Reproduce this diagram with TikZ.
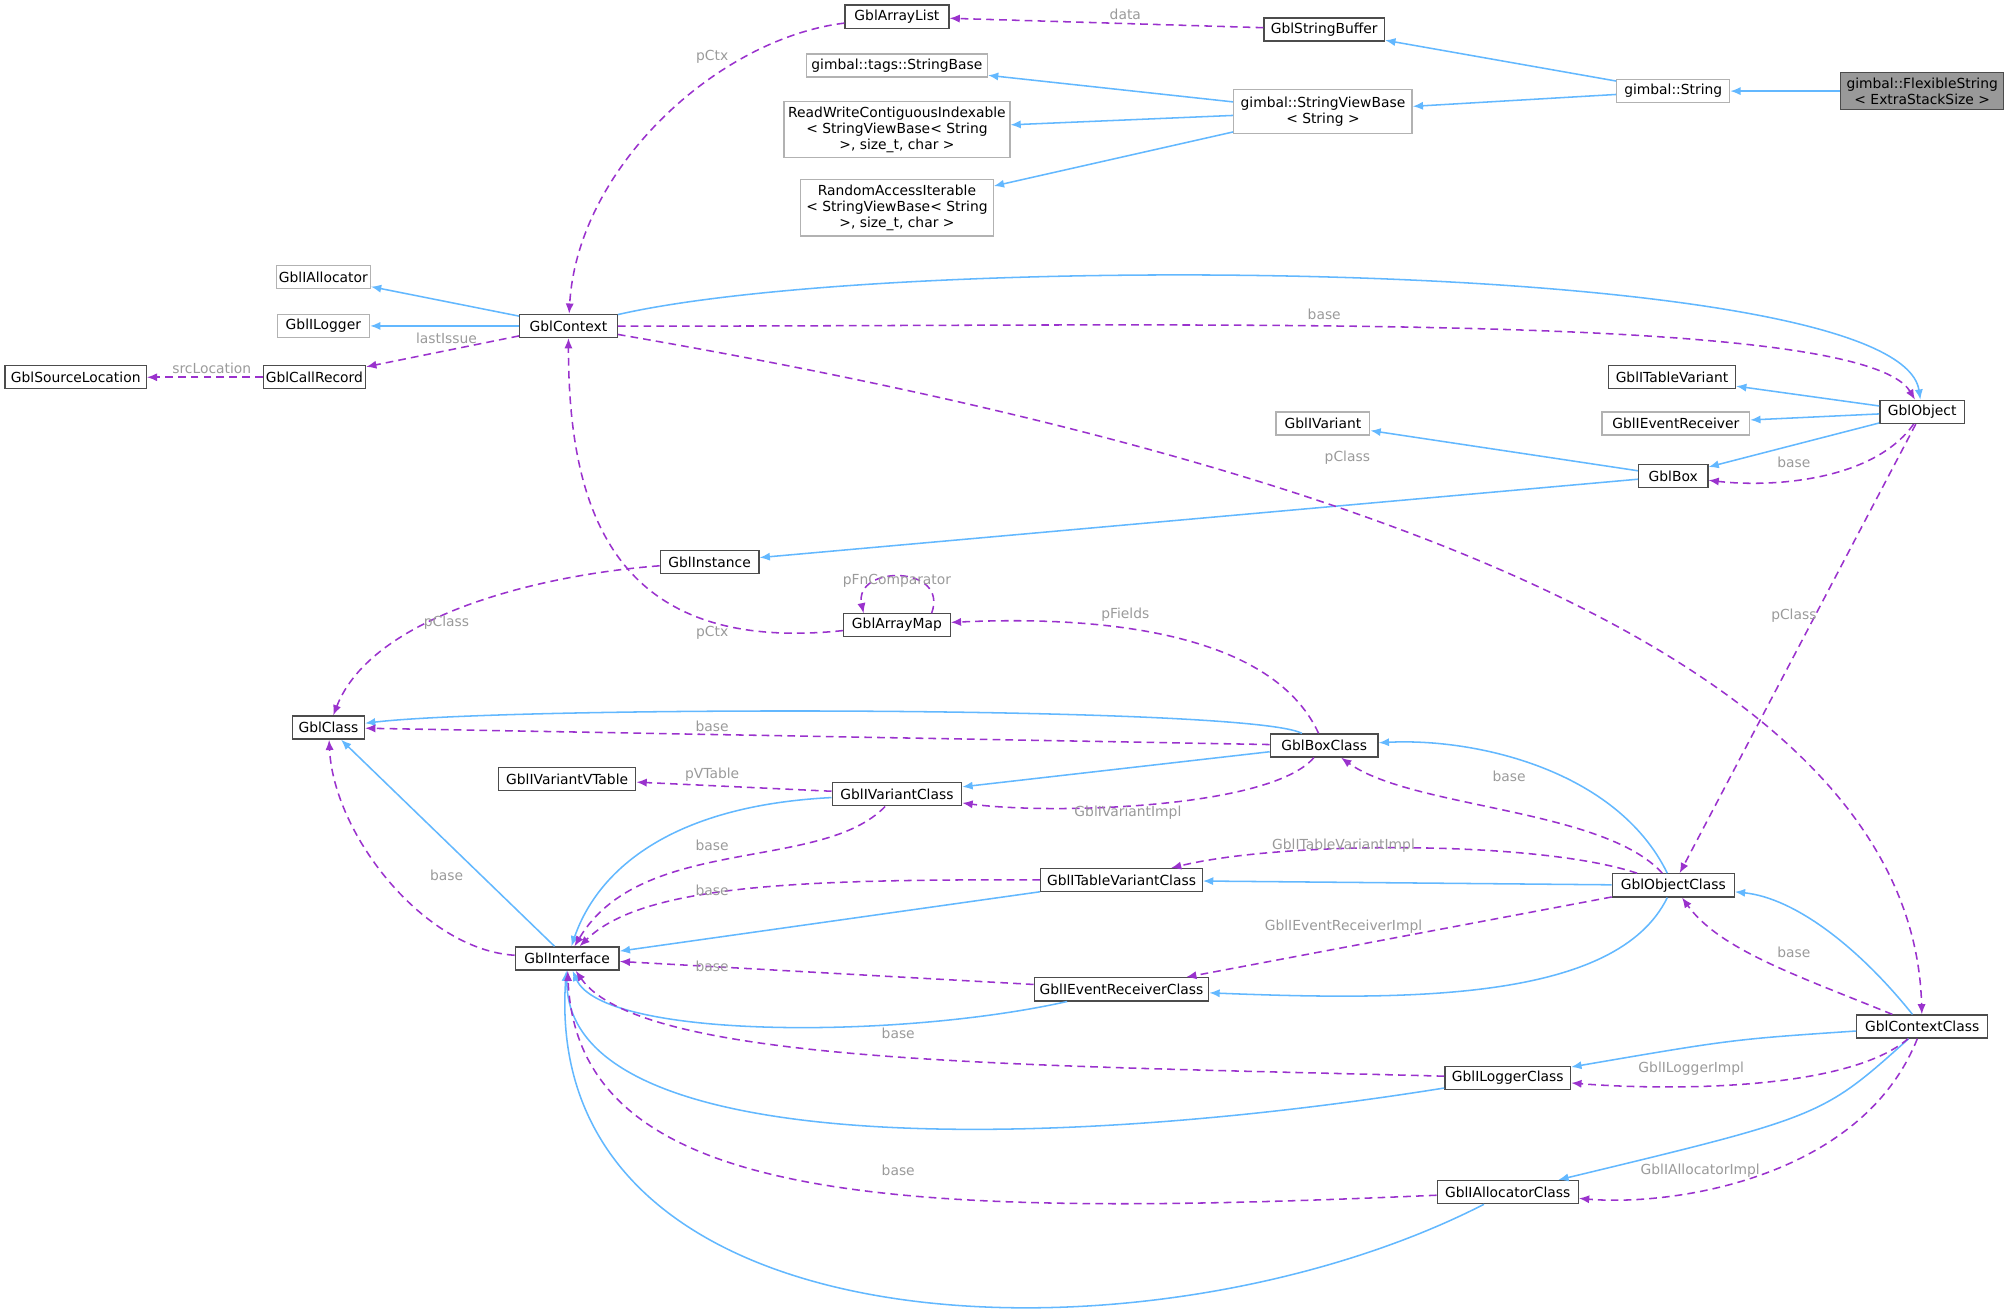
\documentclass[tikz,border=0pt]{standalone}
\usepackage{fontspec}
\setmainfont{DejaVu Sans}
\usetikzlibrary{arrows.meta}
\definecolor{inhc}{HTML}{63B8FF}
\definecolor{usec}{HTML}{9A32CD}
\definecolor{lblc}{HTML}{9A9A9A}
\begin{document}
\begin{tikzpicture}[x=0.5pt,y=-0.5pt,
 box/.style={draw=black!70,fill=white,line width=0.5pt,minimum height=9pt,inner sep=1pt,font=\fontsize{5.4}{6.2}\selectfont,align=center},
 gbox/.style={box,draw=black!30},
 inh/.style={draw=inhc,line width=0.6pt,-{Latex[length=4pt,width=3.2pt]}},
 use/.style={draw=usec,line width=0.6pt,dashed,dash pattern=on 3pt off 2pt,-{Latex[length=4pt,width=3.2pt]}},
 lbl/.style={text=lblc,font=\fontsize{5.4}{6.2}\selectfont,inner sep=0.5pt}]
\useasboundingbox (0,0) rectangle (1568,1024);
% nodes
\node[box,minimum width=40.5pt] (al) at (699,13) {GblArrayList};
\node[box,minimum width=47pt] (sb) at (1032,23) {GblStringBuffer};
\node[gbox,minimum width=44pt] (str) at (1304,71) {gimbal::String};
\node[box,fill=black!40,minimum width=63.5pt,minimum height=14.5pt] (fs) at (1498,71) {gimbal::FlexibleString\\{}< ExtraStackSize >};
\node[gbox,minimum width=70.5pt] (tsb) at (699,51) {gimbal::tags::StringBase};
\node[gbox,minimum width=69.5pt,minimum height=17pt] (svb) at (1031,87) {gimbal::StringViewBase\\{}< String >};
\node[gbox,minimum width=88pt,minimum height=22pt] (rw) at (699,101) {ReadWriteContiguousIndexable\\{}< StringViewBase< String\\{}>, size\_t, char >};
\node[gbox,minimum width=75pt,minimum height=22pt] (ra) at (699,162) {RandomAccessIterable\\{}< StringViewBase< String\\{}>, size\_t, char >};
\node[gbox,minimum width=36pt] (ia) at (252,216) {GblIAllocator};
\node[gbox,minimum width=36pt] (il) at (252,254) {GblILogger};
\node[box,minimum width=38pt] (ctx) at (443,254) {GblContext};
\node[box,minimum width=55pt] (sl) at (59,294) {GblSourceLocation};
\node[box,minimum width=32pt] (cr) at (245,294) {GblCallRecord};
\node[box,minimum width=49.5pt] (itv) at (1303,294) {GblITableVariant};
\node[gbox,minimum width=57.5pt] (ier) at (1306,330) {GblIEventReceiver};
\node[box,minimum width=33pt] (obj) at (1498,321) {GblObject};
\node[gbox,minimum width=36.5pt] (iv) at (1031,330) {GblIVariant};
\node[box,minimum width=27pt] (bx) at (1304,371) {GblBox};
\node[box,minimum width=38.5pt] (ins) at (553,438) {GblInstance};
\node[box,minimum width=41.5pt] (am) at (699,487) {GblArrayMap};
\node[box,minimum width=28pt] (cls) at (256,567) {GblClass};
\node[box,minimum width=42pt] (bc) at (1032,581) {GblBoxClass};
\node[box,minimum width=53.5pt] (vt) at (442,607) {GblIVariantVTable};
\node[box,minimum width=50.5pt] (ivc) at (699,619) {GblIVariantClass};
\node[box,minimum width=63pt] (itvc) at (874,686) {GblITableVariantClass};
\node[box,minimum width=47.5pt] (oc) at (1304,690) {GblObjectClass};
\node[box,minimum width=40.5pt] (itf) at (442,747) {GblInterface};
\node[box,minimum width=68pt] (ierc) at (874,771) {GblIEventReceiverClass};
\node[box,minimum width=51pt] (cc) at (1498,800) {GblContextClass};
\node[box,minimum width=49pt] (ilc) at (1175,840) {GblILoggerClass};
\node[box,minimum width=55pt] (iac) at (1175,929) {GblIAllocatorClass};
\coordinate (amr) at (726,478);
\coordinate (aml) at (673,478);
% inheritance
\draw[inh] (fs) -- (str);
\draw[inh] (str) -- (sb);
\draw[inh] (str) -- (svb);
\draw[inh] (svb) -- (tsb);
\draw[inh] (svb) -- (rw);
\draw[inh] (svb) -- (ra);
\draw[inh] (ctx) -- (ia);
\draw[inh] (ctx) -- (il);
\draw[inh] (ctx) .. controls (700,195) and (1480,200) .. (obj);
\draw[inh] (obj) -- (itv);
\draw[inh] (obj) -- (ier);
\draw[inh] (obj) -- (bx);
\draw[inh] (bx) -- (iv);
\draw[inh] (bx) -- (ins);
\draw[inh] (bc) .. controls (975,550) and (400,550) .. (cls);
\draw[inh] (bc) -- (ivc);
\draw[inh] (oc) .. controls (1260,600) and (1150,575) .. (bc);
\draw[inh] (oc) -- (itvc);
\draw[inh] (oc) .. controls (1260,780) and (1100,780) .. (ierc);
\draw[inh] (cc) .. controls (1450,740) and (1400,700) .. (oc);
\draw[inh] (cc) .. controls (1350,810) .. (ilc);
\draw[inh] (cc) .. controls (1420,870) .. (iac);
\draw[inh] (itf) -- (cls);
\draw[inh] (ivc) .. controls (520,628) and (465,680) .. (itf);
\draw[inh] (itvc) -- (itf);
\draw[inh] (ierc) .. controls (700,810) and (470,810) .. (itf);
\draw[inh] (ilc) .. controls (800,900) and (440,900) .. (itf);
\draw[inh] (iac) .. controls (900,1070) and (420,1060) .. (itf);
% usage
\draw[use] (sb) -- (al); \node[lbl] (l1) at (877,11) {data};
\draw[use] (al) .. controls (560,30) and (450,130) .. (ctx); \node[lbl] (l2) at (555,44) {pCtx};
\draw[use] (ctx) -- (cr); \node[lbl] (l3) at (348,264) {lastIssue};
\draw[use] (cr) -- (sl); \node[lbl] (l4) at (165,287) {srcLocation};
\draw[use] (ctx) .. controls (900,255) and (1450,240) .. (obj); \node[lbl] (l5) at (1032,245) {base};
\draw[use] (ctx) .. controls (1000,350) and (1490,500) .. (cc); \node[lbl] (l6) at (1050,357) {pClass};
\draw[use] (obj) .. controls (1460,375) and (1380,380) .. (bx); \node[lbl] (l7) at (1398,360) {base};
\draw[use] (obj) -- (oc); \node[lbl] (l8) at (1398,480) {pClass};
\draw[use] (am) .. controls (480,510) and (443,400) .. (ctx); \node[lbl] (l9) at (555,493) {pCtx};
\draw[use] (amr) .. controls (740,440) and (665,440) .. (aml);
\node[lbl] (l10) at (699,453) {pFnComparator};
\draw[use] (bc) .. controls (990,490) and (850,480) .. (am); \node[lbl] (l11) at (877,479) {pFields};
\draw[use] (ins) .. controls (420,448) and (290,480) .. (cls); \node[lbl] (l12) at (348,485) {pClass};
\draw[use] (bc) -- (cls); \node[lbl] (l13) at (555,566) {base};
\draw[use] (ivc) -- (vt); \node[lbl] (l14) at (555,604) {pVTable};
\draw[use] (bc) .. controls (990,630) and (820,635) .. (ivc); \node[lbl] (l15) at (879,633) {GblIVariantImpl};
\draw[use] (oc) .. controls (1250,630) and (1100,630) .. (bc); \node[lbl] (l16) at (1176,605) {base};
\draw[use] (oc) .. controls (1200,655) and (1000,655) .. (itvc); \node[lbl] (l17) at (1047,659) {GblITableVariantImpl};
\draw[use] (oc) -- (ierc); \node[lbl] (l18) at (1047,722) {GblIEventReceiverImpl};
\draw[use] (ivc) .. controls (640,680) and (500,650) .. (itf); \node[lbl] (l19) at (555,659) {base};
\draw[use] (itvc) .. controls (620,685) and (500,690) .. (itf); \node[lbl] (l20) at (555,694) {base};
\draw[use] (ierc) -- (itf); \node[lbl] (l21) at (555,753) {base};
\draw[use] (ilc) .. controls (800,830) and (500,830) .. (itf); \node[lbl] (l22) at (700,805) {base};
\draw[use] (iac) .. controls (700,950) and (450,940) .. (itf); \node[lbl] (l23) at (700,912) {base};
\draw[use] (itf) .. controls (330,740) and (260,650) .. (cls); \node[lbl] (l24) at (348,682) {base};
\draw[use] (cc) .. controls (1400,760) and (1340,740) .. (oc); \node[lbl] (l25) at (1398,742) {base};
\draw[use] (cc) .. controls (1440,850) and (1300,850) .. (ilc); \node[lbl] (l26) at (1318,833) {GblILoggerImpl};
\draw[use] (cc) .. controls (1450,920) and (1300,940) .. (iac); \node[lbl] (l27) at (1325,912) {GblIAllocatorImpl};
\end{tikzpicture}
\end{document}
